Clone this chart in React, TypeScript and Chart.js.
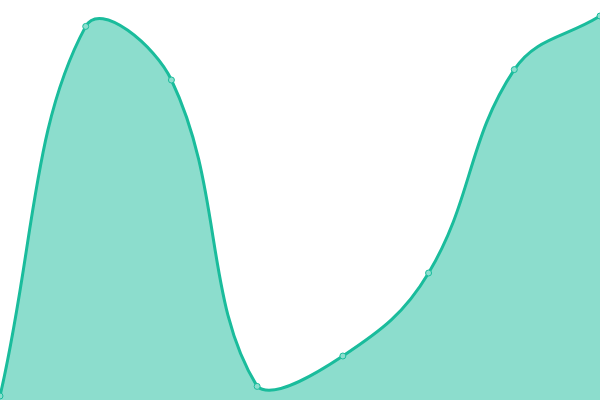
import { useEffect, useRef } from 'react';
import { Chart, registerables } from 'chart.js';

Chart.register(...registerables);

const labels = ['A', 'B', 'C', 'D', 'E', 'F', 'G', 'H'];
const values = [1, 93.4, 80, 3.4, 11, 31.75, 82.6, 96];

const lineColor = '#1abc9c';
const fillColor = 'rgba(26, 188, 156, 0.5)';
const pointFill = 'rgba(140, 222, 206, 1)';

export default function App() {
  const chartRef = useRef<HTMLCanvasElement>(null);

  useEffect(() => {
    if (!chartRef.current) return;
    const chart = new Chart(chartRef.current, {
      type: 'line',
      data: {
        labels,
        datasets: [
          {
            data: values,
            borderColor: lineColor,
            backgroundColor: fillColor,
            borderWidth: 3,
            fill: true,
            tension: 0.4,
            pointRadius: 3,
            pointBorderWidth: 1,
            pointBackgroundColor: pointFill,
            pointBorderColor: lineColor,
          },
        ],
      },
      options: {
        animation: false,
        responsive: true,
        maintainAspectRatio: false,
        layout: { padding: 0, autoPadding: false },
        plugins: {
          legend: { display: false },
          tooltip: { enabled: false },
        },
        scales: {
          x: { display: false },
          y: { display: false, min: 0, max: 100 },
        },
      },
    });
    return () => chart.destroy();
  }, []);

  return (
    <div style={{ position: 'fixed', left: 0, top: 0, width: 600, height: 400, background: '#fff' }}>
      <canvas ref={chartRef} />
    </div>
  );
}
